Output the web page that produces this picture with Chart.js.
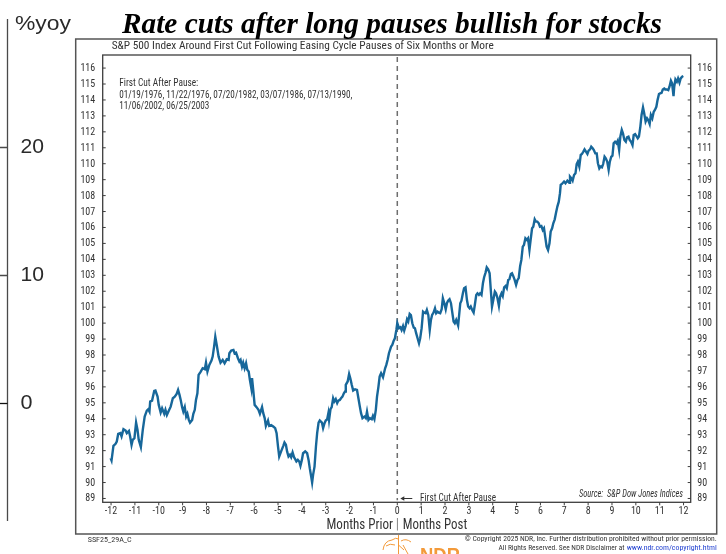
<!DOCTYPE html>
<html>
<head>
<meta charset="utf-8">
<script src="https://cdn.jsdelivr.net/npm/chart.js@4.4.1/dist/chart.umd.min.js"></script>
<style>
  html, body { margin: 0; padding: 0; background: #ffffff; }
  #wrap { position: relative; width: 726px; height: 554px; overflow: hidden; }
  canvas { display: block; }
</style>
</head>
<body>
<div id="wrap"><canvas id="chart" width="726" height="554"></canvas></div>
<script>
// S&P 500 path around the first rate cut after a long pause (index = 100 at the cut)
const monthOffsets = [
  -12.02, -11.98, -11.90, -11.81, -11.76, -11.70, -11.61, -11.56, -11.48, -11.39,
  -11.34, -11.25, -11.20, -11.14, -11.09, -11.02, -10.95, -10.89, -10.84, -10.75,
  -10.67, -10.59, -10.50, -10.44, -10.39, -10.36, -10.28, -10.19, -10.14, -10.05,
  -10.00, -9.92, -9.86, -9.77, -9.72, -9.66, -9.58, -9.50, -9.41, -9.33,
  -9.25, -9.19, -9.13, -9.08, -9.02, -8.97, -8.91, -8.85, -8.80, -8.74,
  -8.69, -8.60, -8.55, -8.49, -8.44, -8.38, -8.33, -8.24, -8.16, -8.07,
  -8.02, -7.96, -7.88, -7.79, -7.74, -7.68, -7.63, -7.57, -7.49, -7.41,
  -7.32, -7.24, -7.15, -7.07, -7.04, -6.96, -6.87, -6.82, -6.76, -6.68,
  -6.62, -6.57, -6.51, -6.46, -6.40, -6.34, -6.29, -6.23, -6.18, -6.12,
  -6.09, -6.04, -5.98, -5.90, -5.82, -5.76, -5.67, -5.62, -5.56, -5.51,
  -5.42, -5.37, -5.29, -5.20, -5.12, -5.06, -5.00, -4.95, -4.87, -4.78,
  -4.73, -4.67, -4.62, -4.56, -4.50, -4.45, -4.39, -4.33, -4.28, -4.23,
  -4.17, -4.11, -4.06, -4.00, -3.95, -3.86, -3.78, -3.72, -3.67, -3.61,
  -3.57, -3.53, -3.47, -3.41, -3.36, -3.30, -3.25, -3.16, -3.11, -3.05,
  -3.00, -2.94, -2.89, -2.86, -2.80, -2.75, -2.69, -2.64, -2.58, -2.52,
  -2.47, -2.41, -2.36, -2.30, -2.24, -2.19, -2.16, -2.08, -2.02, -1.97,
  -1.91, -1.85, -1.77, -1.69, -1.63, -1.57, -1.52, -1.46, -1.38, -1.32,
  -1.27, -1.21, -1.15, -1.07, -1.02, -0.96, -0.90, -0.85, -0.79, -0.74,
  -0.68, -0.60, -0.51, -0.46, -0.40, -0.35, -0.26, -0.21, -0.15, -0.10,
  -0.04, 0.00, 0.07, 0.13, 0.18, 0.24, 0.29, 0.35, 0.41, 0.46,
  0.52, 0.57, 0.63, 0.69, 0.74, 0.79, 0.85, 0.91, 0.96, 1.02,
  1.08, 1.13, 1.19, 1.24, 1.30, 1.36, 1.41, 1.46, 1.52, 1.58,
  1.63, 1.69, 1.74, 1.80, 1.86, 1.91, 1.97, 2.03, 2.08, 2.13,
  2.19, 2.25, 2.30, 2.36, 2.41, 2.47, 2.55, 2.64, 2.69, 2.75,
  2.80, 2.86, 2.92, 2.97, 3.03, 3.08, 3.14, 3.20, 3.25, 3.31,
  3.36, 3.42, 3.47, 3.53, 3.59, 3.64, 3.70, 3.75, 3.81, 3.87,
  3.92, 3.97, 4.03, 4.09, 4.14, 4.20, 4.26, 4.31, 4.37, 4.42,
  4.48, 4.54, 4.59, 4.65, 4.70, 4.76, 4.81, 4.87, 4.92, 4.98,
  5.04, 5.09, 5.15, 5.20, 5.26, 5.31, 5.37, 5.43, 5.48, 5.54,
  5.59, 5.65, 5.70, 5.76, 5.81, 5.87, 5.93, 5.98, 6.04, 6.10,
  6.15, 6.21, 6.26, 6.32, 6.38, 6.43, 6.49, 6.54, 6.60, 6.65,
  6.71, 6.77, 6.82, 6.85, 6.90, 6.99, 7.05, 7.13, 7.21, 7.24,
  7.30, 7.35, 7.41, 7.47, 7.52, 7.57, 7.63, 7.69, 7.74, 7.80,
  7.85, 7.91, 7.97, 8.02, 8.08, 8.13, 8.19, 8.24, 8.30, 8.36,
  8.41, 8.47, 8.52, 8.58, 8.63, 8.69, 8.74, 8.80, 8.86, 8.91,
  8.97, 9.02, 9.07, 9.13, 9.19, 9.24, 9.30, 9.35, 9.41, 9.46,
  9.52, 9.58, 9.63, 9.69, 9.74, 9.80, 9.86, 9.91, 9.97, 10.02,
  10.08, 10.13, 10.19, 10.24, 10.30, 10.35, 10.41, 10.47, 10.52, 10.58,
  10.63, 10.69, 10.75, 10.80, 10.86, 10.91, 10.97, 11.02, 11.08, 11.13,
  11.19, 11.24, 11.30, 11.36, 11.41, 11.47, 11.52, 11.58, 11.61, 11.66,
  11.72, 11.77, 11.83, 11.88, 11.94, 11.99
];

const indexLevels = [
  91.53, 91.38, 92.30, 92.43, 92.57, 93.05, 93.10, 92.89, 93.35, 93.26,
  93.10, 93.24, 92.89, 92.36, 92.68, 92.78, 93.76, 93.30, 92.68, 92.22,
  93.30, 94.14, 94.51, 94.60, 94.45, 95.08, 95.14, 95.75, 95.77, 95.39,
  94.87, 94.39, 94.66, 94.31, 94.56, 94.24, 94.51, 94.76, 95.29, 95.39,
  95.56, 95.81, 95.50, 95.18, 94.73, 94.45, 94.73, 94.14, 94.31, 93.93,
  93.76, 93.93, 94.31, 94.56, 95.18, 95.60, 96.75, 96.96, 97.17, 97.11,
  97.52, 96.96, 97.38, 97.65, 97.90, 98.53, 99.15, 98.63, 97.90, 97.52,
  97.69, 97.48, 97.73, 97.69, 98.11, 98.28, 98.32, 98.11, 98.15, 97.80,
  97.59, 97.69, 97.27, 97.52, 97.17, 97.48, 97.07, 96.96, 96.44, 95.92,
  96.55, 95.81, 94.87, 94.73, 94.56, 94.31, 94.73, 94.35, 94.04, 93.55,
  93.89, 93.55, 93.60, 93.51, 93.41, 93.10, 92.26, 91.63, 91.95, 92.30,
  92.51, 92.37, 91.95, 91.63, 91.74, 91.59, 91.89, 91.59, 91.47, 91.32,
  91.42, 91.32, 91.05, 91.42, 91.84, 91.95, 91.84, 91.42, 90.90, 90.38,
  90.00, 90.48, 91.00, 92.26, 93.10, 93.76, 93.89, 93.76, 93.41, 93.72,
  93.89, 93.97, 94.35, 93.93, 94.60, 94.73, 95.29, 95.08, 95.23, 94.98,
  95.14, 95.18, 95.29, 95.39, 95.60, 95.71, 96.13, 96.34, 96.81, 96.54,
  96.13, 95.77, 95.85, 95.81, 95.29, 94.76, 94.35, 94.04, 94.14, 94.04,
  94.45, 93.93, 94.04, 93.97, 94.18, 93.97, 94.56, 95.39, 96.02, 96.65,
  96.86, 96.61, 97.17, 97.38, 97.73, 98.11, 98.53, 98.63, 98.90, 99.05,
  99.57, 100.00, 99.68, 99.74, 99.57, 99.82, 99.53, 99.82, 100.24, 100.10,
  100.58, 100.51, 99.99, 99.72, 99.68, 99.37, 99.05, 98.74, 99.05, 99.68,
  100.72, 100.66, 100.62, 100.83, 100.51, 99.57, 100.20, 100.51, 100.66, 100.93,
  100.62, 100.72, 100.66, 100.62, 100.87, 101.56, 101.25, 100.87, 101.25, 101.41,
  101.50, 101.25, 100.72, 100.10, 99.99, 100.20, 99.85, 101.25, 101.41, 101.87,
  102.19, 102.25, 101.45, 101.04, 100.93, 101.04, 100.83, 100.66, 101.14, 101.77,
  101.87, 101.77, 101.87, 101.77, 102.50, 102.88, 103.17, 103.50, 103.38, 103.13,
  102.08, 101.04, 101.50, 101.98, 101.87, 101.56, 101.08, 101.66, 101.87, 101.70,
  102.25, 102.33, 102.19, 102.71, 102.75, 103.08, 103.13, 102.92, 102.71, 102.40,
  102.71, 102.82, 103.59, 103.96, 104.80, 104.90, 105.32, 105.22, 105.32, 104.59,
  105.22, 105.95, 106.05, 106.51, 106.37, 106.37, 106.26, 106.05, 106.09, 105.84,
  105.95, 105.32, 104.80, 104.59, 105.01, 105.74, 105.95, 106.26, 106.51, 106.89,
  107.31, 107.62, 108.15, 108.67, 108.73, 108.88, 108.77, 108.94, 108.81, 109.19,
  109.08, 108.94, 109.29, 109.40, 109.98, 110.13, 109.82, 110.55, 110.61, 110.76,
  110.90, 110.76, 110.61, 110.82, 110.90, 111.07, 110.97, 110.86, 110.65, 110.65,
  110.03, 109.71, 109.82, 109.77, 109.98, 110.44, 110.34, 110.13, 109.61, 110.13,
  110.44, 110.50, 111.28, 111.38, 111.28, 111.44, 110.86, 111.70, 112.12, 111.91,
  111.49, 111.38, 111.66, 111.70, 111.49, 111.38, 111.17, 111.80, 111.86, 111.74,
  111.59, 111.70, 112.33, 113.06, 113.53, 113.16, 112.64, 112.85, 112.74, 112.49,
  113.06, 112.85, 113.26, 113.37, 113.57, 113.99, 114.37, 114.41, 114.45, 114.66,
  114.72, 114.66, 114.66, 114.62, 114.83, 115.21, 115.04, 114.24, 114.83, 115.29,
  115.14, 115.35, 115.08, 115.35, 115.46, 115.50
];

// Axis tick values
const xTickValues = [-12, -11, -10, -9, -8, -7, -6, -5, -4, -3, -2, -1, 0, 1, 2, 3, 4, 5, 6, 7, 8, 9, 10, 11, 12];
const yTickValues = [89, 90, 91, 92, 93, 94, 95, 96, 97, 98, 99, 100, 101, 102, 103, 104, 105, 106, 107, 108, 109, 110, 111, 112, 113, 114, 115, 116];

// Neighbouring panel's axis labels (%yoy scale) at the left edge
const sidePanelTicks = ['20', '10', '0'];

// Dates of the first cut after each pause
const cutDatesLine1 = '01/19/1976, 11/22/1976, 07/20/1982, 03/07/1986, 07/13/1990,';
const cutDatesLine2 = '11/06/2002, 06/25/2003';

const NARROW = "'Liberation Sans Narrow', 'Roboto Condensed', Roboto, 'Liberation Sans', sans-serif";
const LINE_BLUE = '#17679a';
const TEXT_GREY = '#333333';

// draw a text string squeezed/stretched horizontally to a given width
function fitText(ctx, text, x, y, w, font, color, align, baseline) {
  ctx.save();
  ctx.font = font;
  ctx.fillStyle = color;
  ctx.textBaseline = baseline || 'middle';
  ctx.textAlign = 'left';
  const mw = ctx.measureText(text).width;
  const sx = w / mw;
  let x0 = x;
  if (align === 'right') x0 = x - w;
  else if (align === 'center') x0 = x - w / 2;
  ctx.translate(x0, y);
  ctx.scale(sx, 1);
  ctx.fillText(text, 0, 0);
  ctx.restore();
}

const framePlugin = {
  id: 'frameAndNotes',
  beforeDatasetsDraw(chart) {
    const { ctx, chartArea: a, scales } = chart;
    // vertical dashed marker at the first cut
    const x0 = scales.x.getPixelForValue(0);
    ctx.save();
    ctx.strokeStyle = '#6e6e6e';
    ctx.lineWidth = 1.5;
    ctx.setLineDash([5, 4]);
    ctx.beginPath();
    ctx.moveTo(x0, a.top + 2);
    ctx.lineTo(x0, a.bottom - 2);
    ctx.stroke();
    ctx.restore();
  },
  afterDraw(chart) {
    const { ctx, chartArea: a, scales } = chart;
    ctx.save();

    // plot frame
    ctx.strokeStyle = '#3d3d3d';
    ctx.lineWidth = 1.3;
    ctx.strokeRect(a.left, a.top, a.right - a.left, a.bottom - a.top);

    // tick marks: inward on both value axes, outward below the month axis
    ctx.lineWidth = 1;
    ctx.beginPath();
    yTickValues.forEach(v => {
      const py = scales.y.getPixelForValue(v);
      ctx.moveTo(a.left, py); ctx.lineTo(a.left + 3, py);
      ctx.moveTo(a.right, py); ctx.lineTo(a.right - 3, py);
    });
    xTickValues.forEach(v => {
      const px = scales.x.getPixelForValue(v);
      ctx.moveTo(px, a.bottom); ctx.lineTo(px, a.bottom + 3);
    });
    ctx.stroke();

    // tick labels
    ctx.font = '10px ' + NARROW;
    ctx.fillStyle = TEXT_GREY;
    ctx.textBaseline = 'middle';
    yTickValues.forEach(v => {
      const py = scales.y.getPixelForValue(v);
      ctx.textAlign = 'right';
      ctx.fillText(String(v), a.left - 7.5, py + 0.5);
      ctx.textAlign = 'left';
      ctx.fillText(String(v), a.right + 6.5, py + 0.5);
    });
    ctx.textAlign = 'center';
    xTickValues.forEach(v => {
      const px = scales.x.getPixelForValue(v);
      ctx.fillText(String(v), px, 511.5);
    });

    // outer panel box
    ctx.strokeStyle = '#555555';
    ctx.lineWidth = 1.5;
    ctx.strokeRect(75.7, 39, 641, 495);

    // neighbouring panel axis on the far left
    ctx.strokeStyle = '#4a4a4a';
    ctx.lineWidth = 1.3;
    ctx.beginPath();
    ctx.moveTo(7.5, 19); ctx.lineTo(7.5, 521);
    ctx.moveTo(0, 147.5); ctx.lineTo(7.5, 147.5);
    ctx.moveTo(0, 275.5); ctx.lineTo(7.5, 275.5);
    ctx.stroke();
    ctx.strokeStyle = '#111111';
    ctx.beginPath();
    ctx.moveTo(0, 403.5); ctx.lineTo(7.5, 403.5);
    ctx.stroke();
    ctx.restore();

    const sideFont = "21px 'Liberation Sans', Arial, sans-serif";
    fitText(ctx, '%yoy', 15, 24, 56, sideFont, '#2a2a2a', 'left');
    fitText(ctx, sidePanelTicks[0], 20.5, 147, 23.5, sideFont, '#2a2a2a', 'left');
    fitText(ctx, sidePanelTicks[1], 20.5, 275.5, 23.5, sideFont, '#2a2a2a', 'left');
    fitText(ctx, sidePanelTicks[2], 20.5, 403.5, 12, sideFont, '#2a2a2a', 'left');

    // headline
    fitText(ctx, 'Rate cuts after long pauses bullish for stocks', 122, 33, 540,
      "italic bold 29px 'Liberation Serif', 'Times New Roman', serif", '#000000', 'left', 'alphabetic');

    // panel subtitle
    fitText(ctx, 'S&P 500 Index Around First Cut Following Easing Cycle Pauses of Six Months or More',
      111.7, 46.5, 382, '11px ' + NARROW, TEXT_GREY, 'left');

    // list of cut dates
    fitText(ctx, 'First Cut After Pause:', 119.3, 83, 79, '10px ' + NARROW, TEXT_GREY, 'left');
    fitText(ctx, cutDatesLine1, 119.3, 95, 233, '10px ' + NARROW, TEXT_GREY, 'left');
    fitText(ctx, cutDatesLine2, 119.3, 106.5, 90, '10px ' + NARROW, TEXT_GREY, 'left');

    // marker caption with arrow
    const xCut = scales.x.getPixelForValue(0);
    ctx.save();
    ctx.strokeStyle = TEXT_GREY;
    ctx.fillStyle = TEXT_GREY;
    ctx.lineWidth = 1;
    ctx.beginPath();
    ctx.moveTo(xCut + 4, 498.5); ctx.lineTo(xCut + 15, 498.5);
    ctx.stroke();
    ctx.beginPath();
    ctx.moveTo(xCut + 3, 498.5); ctx.lineTo(xCut + 7, 496.3); ctx.lineTo(xCut + 7, 500.7);
    ctx.closePath(); ctx.fill();
    ctx.restore();
    fitText(ctx, 'First Cut After Pause', 420, 498.3, 76, '10.5px ' + NARROW, TEXT_GREY, 'left');

    // source note
    fitText(ctx, 'Source:  S&P Dow Jones Indices', 579, 494, 104, 'italic 10px ' + NARROW, TEXT_GREY, 'left');

    // axis title
    fitText(ctx, 'Months Prior', 393, 525, 66.5, '14px ' + NARROW, TEXT_GREY, 'right');
    fitText(ctx, '|', xCut, 525, 2, '14px ' + NARROW, TEXT_GREY, 'center');
    fitText(ctx, 'Months Post', 402.7, 525, 64.5, '14px ' + NARROW, TEXT_GREY, 'left');

    // footer
    fitText(ctx, 'SSF25_29A_C', 87.7, 540, 44, '8px ' + NARROW, TEXT_GREY, 'left');
    fitText(ctx, '\u00A9 Copyright 2025 NDR, Inc. Further distribution prohibited without prior permission.',
      716.7, 538.7, 252, '8px ' + NARROW, TEXT_GREY, 'right');
    fitText(ctx, 'All Rights Reserved. See NDR Disclaimer at', 624.5, 547.8, 126, '8px ' + NARROW, TEXT_GREY, 'right');
    fitText(ctx, 'www.ndr.com/copyright.html', 716.7, 547.8, 90, '8px ' + NARROW, '#1f3fd0', 'right');

    // NDR mark
    ctx.save();
    ctx.strokeStyle = '#f39a3a';
    ctx.lineWidth = 1;
    ctx.beginPath();
    ctx.moveTo(398.5, 535); ctx.lineTo(398.5, 554);
    ctx.moveTo(383, 550); ctx.quadraticCurveTo(384, 541, 392, 540);
    ctx.quadraticCurveTo(396, 537, 398.5, 539);
    ctx.moveTo(386, 546); ctx.quadraticCurveTo(390, 543, 395, 545);
    ctx.moveTo(401, 541); ctx.quadraticCurveTo(406, 538, 411, 542);
    ctx.moveTo(403, 545); ctx.lineTo(408, 554);
    ctx.moveTo(398.5, 545); ctx.lineTo(404, 550);
    ctx.stroke();
    ctx.restore();
    fitText(ctx, 'NDR', 420, 546, 40, "bold 20px 'Liberation Sans', Arial, sans-serif", '#f39a3a', 'left', 'top');
  }
};

new Chart(document.getElementById('chart'), {
  type: 'line',
  data: {
    datasets: [{
      data: monthOffsets.map((m, i) => ({ x: m, y: indexLevels[i] })),
      borderColor: LINE_BLUE,
      borderWidth: 2.4,
      pointRadius: 0,
      tension: 0,
      fill: false,
      yAxisID: 'y',
      xAxisID: 'x'
    }]
  },
  options: {
    responsive: false,
    animation: false,
    devicePixelRatio: 1,
    parsing: false,
    layout: { padding: { top: 55, left: 0, right: 0, bottom: 0 } },
    plugins: { legend: { display: false }, tooltip: { enabled: false }, title: { display: false } },
    scales: {
      x: {
        type: 'linear', position: 'bottom', min: -12.35, max: 12.3,
        afterBuildTicks: s => { s.ticks = xTickValues.map(v => ({ value: v })); },
        afterFit: s => { s.height = 51.7; },
        grid: { display: false },
        border: { display: false },
        ticks: { display: false }
      },
      y: {
        type: 'linear', position: 'left', min: 88.76, max: 116.82,
        afterBuildTicks: s => { s.ticks = yTickValues.map(v => ({ value: v })); },
        afterFit: s => { s.width = 102.7; },
        grid: { display: false },
        border: { display: false },
        ticks: { display: false }
      },
      y2: {
        type: 'linear', position: 'right', min: 88.76, max: 116.82,
        afterBuildTicks: s => { s.ticks = yTickValues.map(v => ({ value: v })); },
        afterFit: s => { s.width = 35.3; },
        grid: { display: false },
        border: { display: false },
        ticks: { display: false }
      }
    }
  },
  plugins: [framePlugin]
});
</script>
</body>
</html>
